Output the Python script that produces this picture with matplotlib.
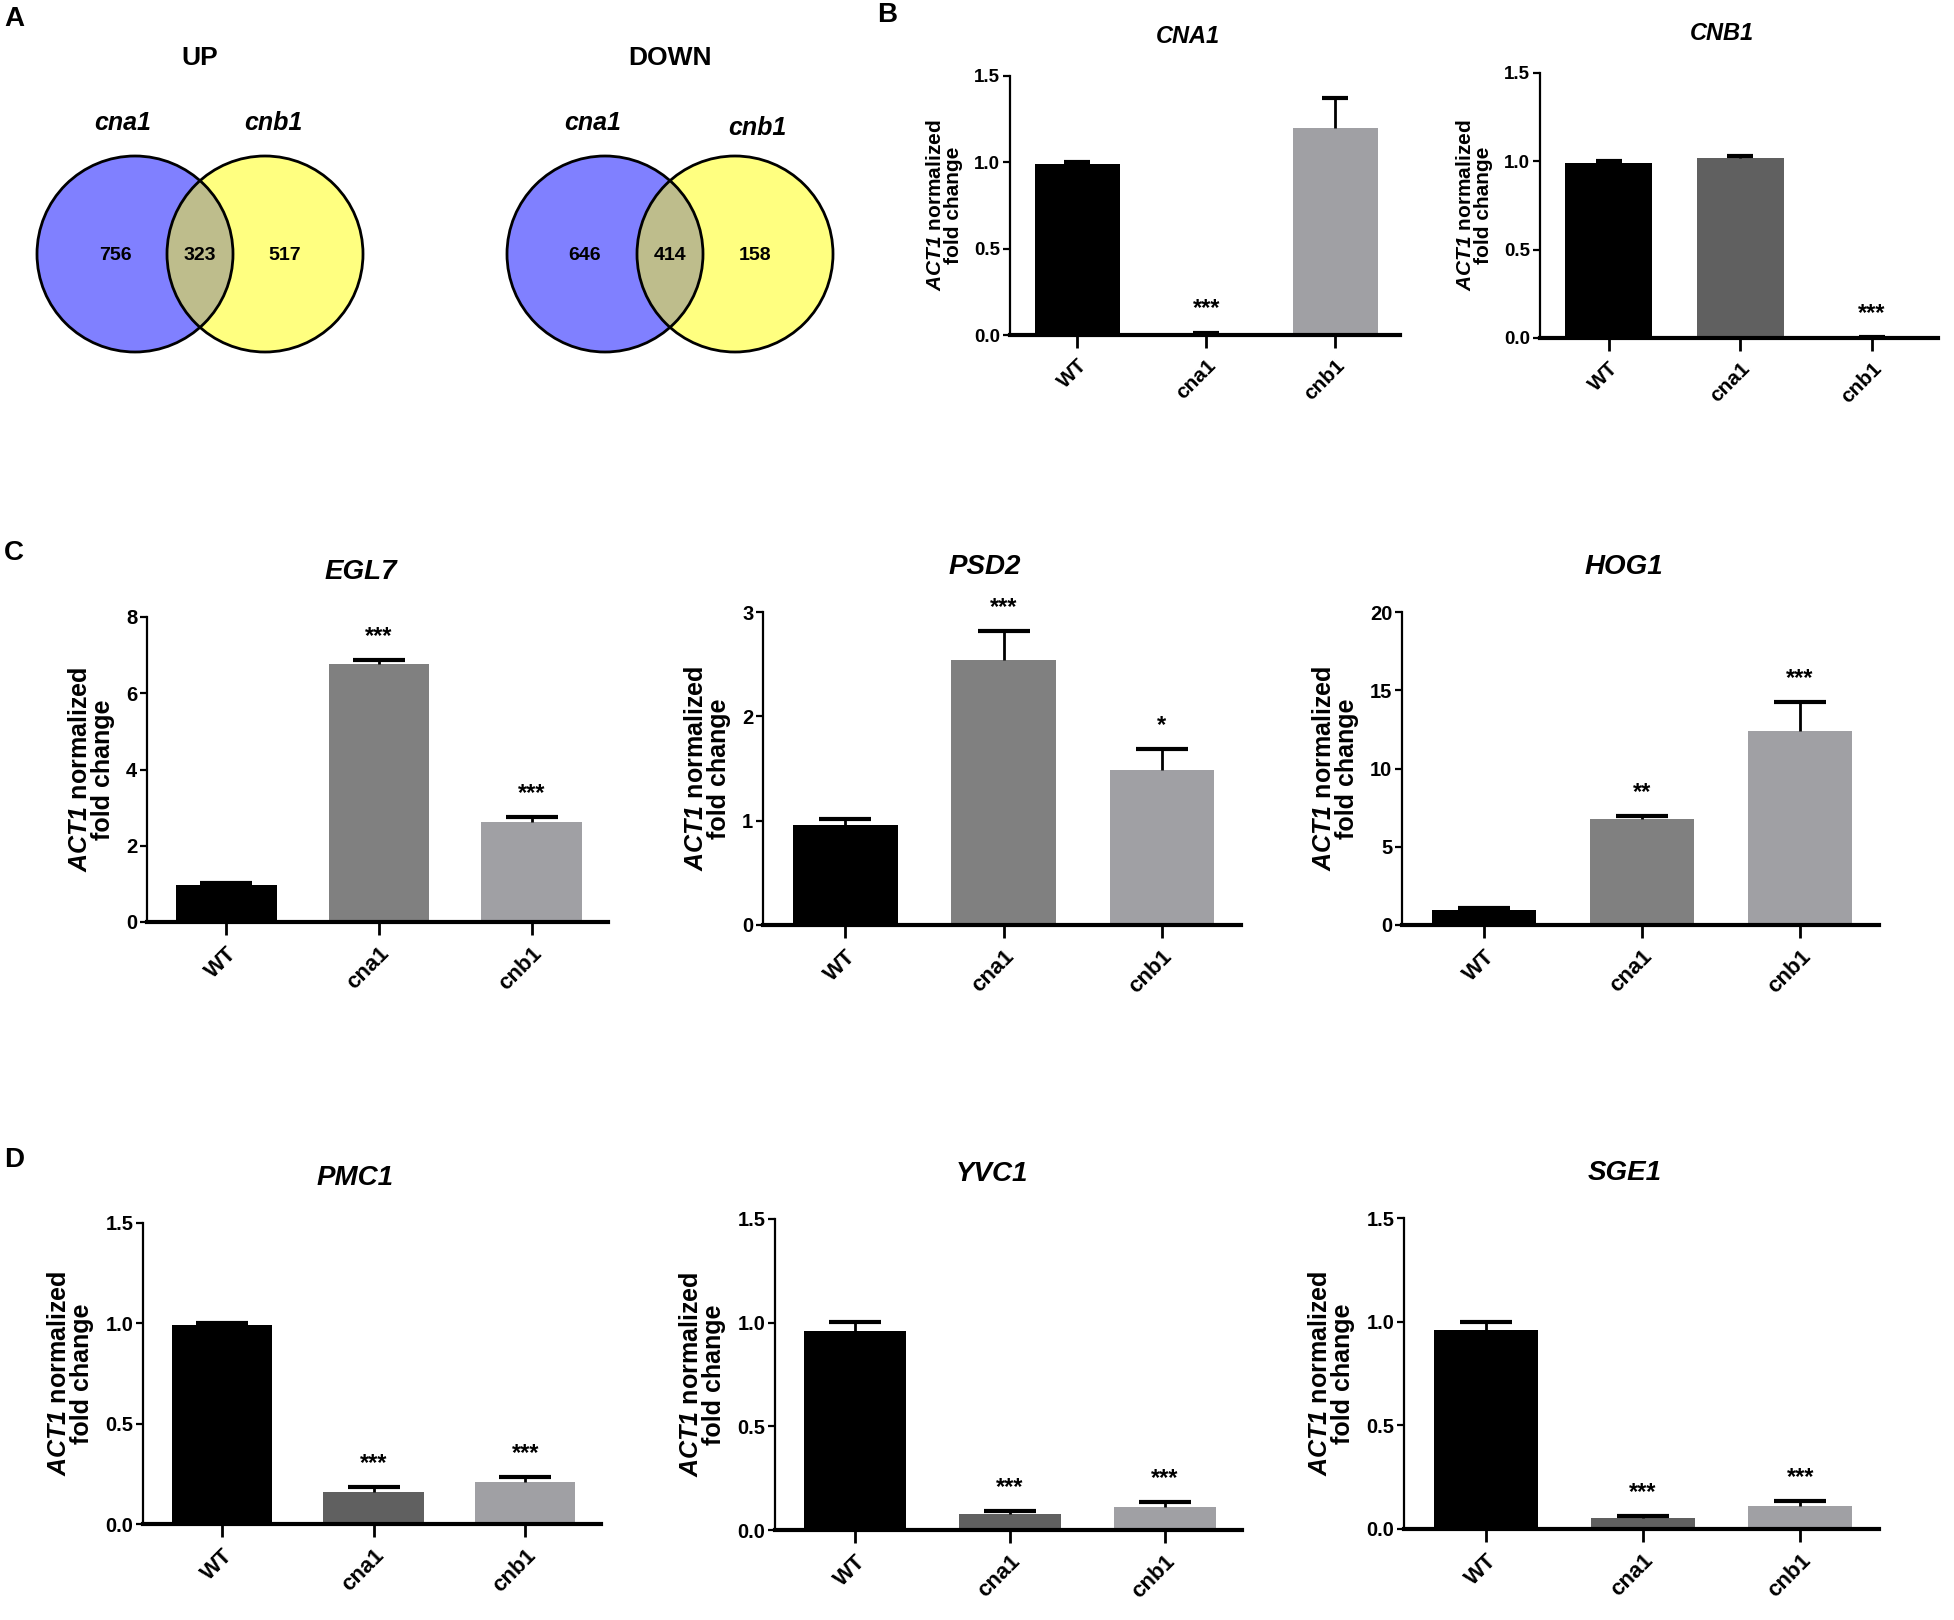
import matplotlib
matplotlib.use("Agg")
import matplotlib.pyplot as plt
from matplotlib.patches import Circle
import numpy as np

plt.rcParams['font.family'] = 'Liberation Sans'
plt.rcParams['font.weight'] = 'bold'
plt.rcParams['mathtext.fontset'] = 'custom'
plt.rcParams['mathtext.rm'] = 'Liberation Sans:bold'
plt.rcParams['mathtext.bf'] = 'Liberation Sans:bold'
plt.rcParams['mathtext.bfit'] = 'Liberation Sans:bold:italic'
plt.rcParams['mathtext.it'] = 'Liberation Sans:bold:italic'

W, H = 1954, 1620

# --- data ---
strains = ['WT', 'cna1', 'cnb1']

venn_titles = ['UP', 'DOWN']
venn_sets = ['cna1', 'cnb1']
up_counts = [756, 323, 517]
down_counts = [646, 414, 158]

cna1_mean = [0.99, 0.012, 1.196]
cna1_err = [0.01, 0.002, 0.174]
cna1_sig = ['', '***', '']

cnb1_mean = [0.99, 1.02, 0.003]
cnb1_err = [0.01, 0.01, 0.0]
cnb1_sig = ['', '', '***']

egl7_mean = [0.96, 6.76, 2.62]
egl7_err = [0.06, 0.12, 0.13]
egl7_sig = ['', '***', '***']

psd2_mean = [0.96, 2.54, 1.49]
psd2_err = [0.06, 0.28, 0.20]
psd2_sig = ['', '***', '*']

hog1_mean = [0.96, 6.75, 12.42]
hog1_err = [0.10, 0.23, 1.85]
hog1_sig = ['', '**', '***']

pmc1_mean = [0.99, 0.158, 0.208]
pmc1_err = [0.01, 0.028, 0.025]
pmc1_sig = ['', '***', '***']

yvc1_mean = [0.961, 0.077, 0.111]
yvc1_err = [0.04, 0.016, 0.023]
yvc1_sig = ['', '***', '***']

sge1_mean = [0.958, 0.053, 0.113]
sge1_err = [0.04, 0.008, 0.02]
sge1_sig = ['', '***', '***']

fig = plt.figure(figsize=(W / 100, H / 100), dpi=100)


def fx(x):
    return x / W


def fy(y):
    return 1 - y / H


# panel letters
for letter, (x, y) in zip('ABCD', [(14, 19), (887, 15), (14, 553), (14, 1160)]):
    fig.text(fx(x), fy(y), letter, fontsize=20, fontweight='bold', ha='center', va='center')

# --- panel A: venn diagrams ---
va = fig.add_axes([0, fy(420), 880 / W, 420 / H])
va.set_xlim(0, 880)
va.set_ylim(420, 0)
va.axis('off')

blue, yellow, olive = '#8080FF', '#FFFF80', '#BEBD8C'
for title, counts, cx, lab_y2 in [(venn_titles[0], up_counts, 200, 123),
                                  (venn_titles[1], down_counts, 670, 128)]:
    lx, rx, cy, r = cx - 65, cx + 65, 254, 98
    va.text(cx, 58, title, fontsize=19, fontweight='bold', ha='center', va='center')
    va.text(lx - 12, 123, venn_sets[0], fontsize=18, fontweight='bold', style='italic',
            ha='center', va='center')
    va.text(rx + 8 + (cx - 200) * 0.03, lab_y2, venn_sets[1], fontsize=18, fontweight='bold',
            style='italic', ha='center', va='center')
    left = Circle((lx, cy), r, facecolor=blue, edgecolor='none')
    right = Circle((rx, cy), r, facecolor=yellow, edgecolor='none')
    va.add_patch(left)
    va.add_patch(right)
    mid = Circle((lx, cy), r, facecolor=olive, edgecolor='none')
    va.add_patch(mid)
    mid.set_clip_path(right)
    for c in [(lx, cy), (rx, cy)]:
        va.add_patch(Circle(c, r, fill=False, edgecolor='black', lw=2))
    for xx, n in zip([lx - 20, cx, rx + 20], counts):
        va.text(xx, cy + 1, str(n), fontsize=14, fontweight='bold', ha='center', va='center')


# --- bar panels ---
def bar_panel(left, right, top, bottom, title, means, errs, sigs, colors, yticks,
              fmt, title_size, capsize, label_size, tick_size, title_gap):
    ax = fig.add_axes([fx(left), fy(bottom), (right - left) / W, (bottom - top) / H])
    x = np.arange(len(strains))
    means = np.array(means)
    tops = means + np.array(errs)
    ax.bar(x, means, width=0.66, color=colors, zorder=2)
    # upper-only error bars
    ax.vlines(x, means, tops, color='black', lw=2, zorder=3)
    ax.plot(x, tops, ls='none', marker='_', markersize=2 * capsize, mew=3,
            color='black', zorder=3, clip_on=False)
    for xi, t, s in zip(x, tops, sigs):
        if s:
            ax.annotate(s, (xi, t), xytext=(0, 17), textcoords='offset points',
                        ha='center', va='center', fontsize=17, fontweight='bold')
    ax.set_xlim(-0.52, 2.5)
    ax.set_ylim(0, yticks[-1])
    ax.set_yticks(yticks)
    ax.set_yticklabels([fmt.format(t) for t in yticks], fontsize=tick_size, fontweight='bold')
    ax.set_xticks(x)
    ax.set_xticklabels(strains, rotation=45, ha='right', rotation_mode='anchor',
                       fontsize=tick_size + 1.5, fontweight='bold')
    for s in ['top', 'right']:
        ax.spines[s].set_visible(False)
    ax.spines['left'].set_linewidth(1.6)
    ax.spines['bottom'].set_linewidth(3)
    ax.tick_params(axis='y', direction='out', length=5, width=1.6, pad=2)
    ax.tick_params(axis='x', direction='out', length=9, width=2, pad=6)
    ax.set_ylabel('$\\mathbfit{ACT1}$ normalized\nfold change', fontsize=label_size,
                  fontweight='bold', labelpad=8, linespacing=0.95)
    ax.set_title(title, fontsize=title_size, fontweight='bold', style='italic', pad=0,
                 x=0.5 - 17 / (right - left), y=1 + title_gap / (bottom - top))
    return ax


grey_d, grey_m, grey_l = '#606060', '#808080', '#A0A0A4'

bar_panel(1010, 1400, 76, 335, 'CNA1', cna1_mean, cna1_err, cna1_sig,
          ['black', grey_d, grey_l], [0, 0.5, 1.0, 1.5], '{:.1f}', 17, 9.5, 15, 13.5, 33)
bar_panel(1540, 1938, 73, 338, 'CNB1', cnb1_mean, cnb1_err, cnb1_sig,
          ['black', grey_d, grey_l], [0, 0.5, 1.0, 1.5], '{:.1f}', 17, 9.5, 15, 13.5, 33)

bar_panel(147, 608, 617, 922, 'EGL7', egl7_mean, egl7_err, egl7_sig,
          ['black', grey_m, grey_l], [0, 2, 4, 6, 8], '{:.0f}', 20, 19, 18, 14.5, 38)
bar_panel(763, 1241, 612, 925, 'PSD2', psd2_mean, psd2_err, psd2_sig,
          ['black', grey_m, grey_l], [0, 1, 2, 3], '{:.0f}', 20, 19, 18, 14.5, 38)
bar_panel(1402, 1879, 612, 925, 'HOG1', hog1_mean, hog1_err, hog1_sig,
          ['black', grey_m, grey_l], [0, 5, 10, 15, 20], '{:.0f}', 20, 19, 18, 14.5, 38)

bar_panel(143, 601, 1223, 1524, 'PMC1', pmc1_mean, pmc1_err, pmc1_sig,
          ['black', grey_d, grey_l], [0, 0.5, 1.0, 1.5], '{:.1f}', 20, 19, 18, 14.5, 38)
bar_panel(775, 1242, 1219, 1530, 'YVC1', yvc1_mean, yvc1_err, yvc1_sig,
          ['black', grey_d, grey_l], [0, 0.5, 1.0, 1.5], '{:.1f}', 20, 19, 18, 14.5, 38)
bar_panel(1404, 1879, 1218, 1529, 'SGE1', sge1_mean, sge1_err, sge1_sig,
          ['black', grey_d, grey_l], [0, 0.5, 1.0, 1.5], '{:.1f}', 20, 19, 18, 14.5, 38)

fig.savefig('out.png', dpi=100)
